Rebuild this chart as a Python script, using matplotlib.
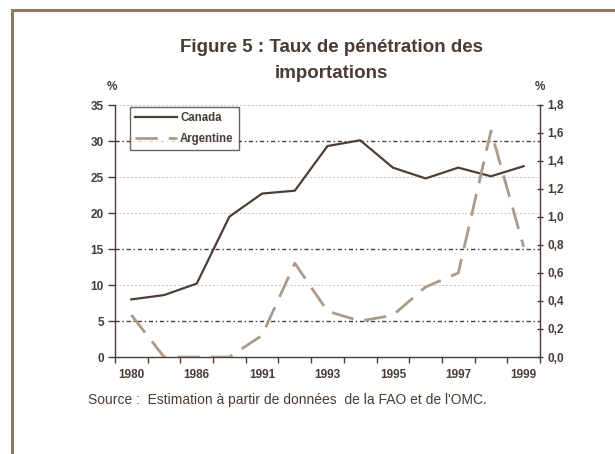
import matplotlib
matplotlib.use("Agg")
import matplotlib.pyplot as plt
from matplotlib.patches import Rectangle
import numpy as np

plt.rcParams['font.family'] = ['Liberation Sans', 'DejaVu Sans']

years = ["1980", "1983", "1986", "1989", "1991", "1992", "1993", "1994",
         "1995", "1996", "1997", "1998", "1999"]
canada = [8.0, 8.6, 10.2, 19.5, 22.7, 23.1, 29.3, 30.1, 26.3, 24.8, 26.3, 25.1, 26.5]
argentine = [0.30, 0.0, 0.0, 0.0, 0.155, 0.67, 0.327, 0.257, 0.298, 0.50, 0.60, 1.615, 0.787]
left_ticks = [0, 5, 10, 15, 20, 25, 30, 35]
right_ticks = [0.0, 0.2, 0.4, 0.6, 0.8, 1.0, 1.2, 1.4, 1.6, 1.8]
dark_grid = [5, 15, 30]
light_grid = [10, 20, 25, 35]

TXT = '#4a3b33'
CAN = '#4d3f36'
ARG = '#ab998a'
BORDER = '#8c7a66'

W, H = 615, 454
fig = plt.figure(figsize=(W / 100, H / 100), dpi=100)

# frame (only left and top edges visible)
fig.patches.append(Rectangle((11.5 / W, -0.5), 2.0, 1 - 9.5 / H + 0.5,
                             transform=fig.transFigure, fill=False,
                             edgecolor=BORDER, linewidth=2.2))

x0, x1 = 115, 540
y0, y1 = 105, 357
ax = fig.add_axes([x0 / W, 1 - y1 / H, (x1 - x0) / W, (y1 - y0) / H])
ax2 = ax.twinx()

n = len(years)
xs = np.arange(n)
ax.set_xlim(-0.5, n - 0.5)
ax.set_ylim(0, 35)
ax2.set_ylim(0, 1.8)

for g in dark_grid:
    ax.axhline(g, color=TXT, linewidth=1.0, linestyle=(0, (3, 2, 1, 2)), zorder=1)
for g in light_grid:
    ax.axhline(g, color='#c8c2bc', linewidth=0.7, linestyle=(0, (2, 2)), zorder=1)

l1, = ax.plot(xs, canada, color=CAN, linewidth=1.6, zorder=3)
l2, = ax2.plot(xs, argentine, color=ARG, linewidth=2.0,
               linestyle=(0, (8, 4)), zorder=3)

for s in ['top', 'right']:
    ax.spines[s].set_visible(False)
    ax2.spines[s].set_visible(False)
ax2.spines['left'].set_visible(False)
ax2.spines['bottom'].set_visible(False)
ax.spines['left'].set_color(TXT)
ax.spines['bottom'].set_color(TXT)
ax2.spines['right'].set_visible(True)
ax2.spines['right'].set_color(TXT)
for a in (ax, ax2):
    for s in a.spines.values():
        s.set_linewidth(1.0)

ax.set_yticks(left_ticks)
ax.set_yticklabels([str(t) for t in left_ticks], fontsize=8.5, fontweight='bold', color=TXT)
ax2.set_yticks(right_ticks)
ax2.set_yticklabels([f"{t:.1f}".replace('.', ',') for t in right_ticks],
                    fontsize=8.5, fontweight='bold', color=TXT)
ax.tick_params(axis='y', length=5, width=1.0, color=TXT, direction='out', pad=3)
ax2.tick_params(axis='y', length=5, width=1.0, color=TXT, direction='inout', pad=3)

# category boundary ticks on x axis, labels on alternate categories
ax.set_xticks(np.arange(n + 1) - 0.5)
ax.set_xticklabels([])
ax.tick_params(axis='x', length=4, width=1.0, color=TXT, direction='out')
ax.set_xticks(xs, minor=True)
ax.set_xticklabels([y if i % 2 == 0 else '' for i, y in enumerate(years)],
                   minor=True, fontsize=8.5, fontweight='bold', color=TXT)
ax.tick_params(axis='x', which='minor', length=0, pad=9)

fig.text(331 / W, 1 - 48 / H, "Figure 5 : Taux de pénétration des", ha='center',
         va='center', fontsize=13.5, fontweight='bold', color=TXT)
fig.text(331 / W, 1 - 73 / H, "importations", ha='center', va='center',
         fontsize=13.5, fontweight='bold', color=TXT)
fig.text(112 / W, 1 - 87 / H, "%", ha='center', va='center', fontsize=8.5,
         fontweight='bold', color=TXT)
fig.text(540 / W, 1 - 87 / H, "%", ha='center', va='center', fontsize=8.5,
         fontweight='bold', color=TXT)
fig.text(88 / W, 1 - 400 / H, "Source :  Estimation à partir de données  de la FAO et de l'OMC.",
         ha='left', va='center', fontsize=10, color=TXT)

leg = ax.legend([l1, l2], ["Canada", "Argentine"], loc='upper left',
                bbox_to_anchor=((130 - x0) / (x1 - x0), 1 - (107 - y0) / (y1 - y0)),
                fancybox=False, frameon=True, prop={'weight': 'bold', 'size': 8.3},
                handlelength=3.6, borderpad=0.45, labelspacing=0.75, handletextpad=0.3,
                borderaxespad=0)
leg.get_frame().set_edgecolor(TXT)
leg.get_frame().set_linewidth(1.0)
leg.set_zorder(5)
for t in leg.get_texts():
    t.set_color(TXT)

fig.savefig("out.png", dpi=100)
